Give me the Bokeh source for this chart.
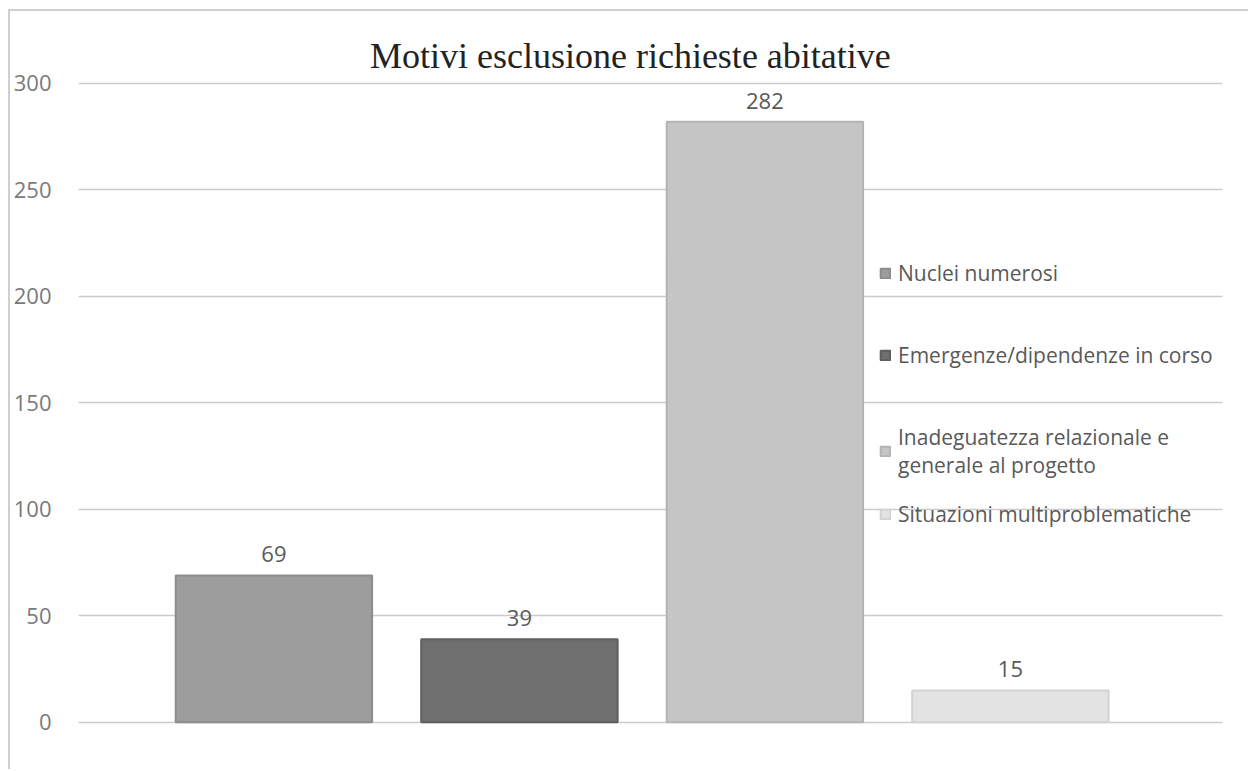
from bokeh.plotting import figure
from bokeh.models import (ColumnDataSource, Range1d, FixedTicker, Legend, LegendItem, Label)
from bokeh.core.properties import value
from bokeh.embed import file_html
from bokeh.resources import INLINE

# ---- data ----
categories = ["Nuclei numerosi", "Emergenze/dipendenze in corso",
              "Inadeguatezza relazionale e\ngenerale al progetto",
              "Situazioni multiproblematiche"]
counts = [69, 39, 282, 15]
fill_colors = ["#9d9d9d", "#6f6f6f", "#c5c5c5", "#e3e3e3"]
edge_colors = ["#8c8c8c", "#5f5f5f", "#b3b3b3", "#d2d2d2"]
y_ticks = [0, 50, 100, 150, 200, 250, 300]
title_text = "Motivi esclusione richieste abitative"

positions = list(range(len(categories)))
src = ColumnDataSource(dict(x=positions, top=counts, fill=fill_colors,
                            edge=edge_colors, lab=[str(c) for c in counts]))

p = figure(width=1240, height=760, output_backend="svg", toolbar_location=None,
           x_range=Range1d(-0.796, 3.864), y_range=Range1d(-1, 333.8),
           min_border_left=68, min_border_right=28, min_border_top=0,
           min_border_bottom=47)
p.styles = {"margin-left": "8px", "margin-top": "9px",
            "border-left": "2px solid #cfcfcf", "border-top": "2px solid #cfcfcf"}
p.outline_line_color = None
p.background_fill_color = "white"
p.border_fill_color = "white"

p.xaxis.visible = False
p.xgrid.grid_line_color = None
p.ygrid.grid_line_color = "#cbcbcb"
p.ygrid.grid_line_width = 1.5
p.yaxis.ticker = FixedTicker(ticks=y_ticks)
p.yaxis.axis_line_color = None
p.yaxis.major_tick_line_color = None
p.yaxis.minor_tick_line_color = None
p.yaxis.major_label_standoff = 21
p.yaxis.major_label_text_font = "Open Sans"
p.yaxis.major_label_text_font_size = "22px"
p.yaxis.major_label_text_color = "#7a7a7a"

r = p.vbar(x="x", top="top", width=0.80, bottom=0, source=src,
           fill_color="fill", line_color="edge", line_width=2)

p.text(x="x", y="top", text="lab", source=src, y_offset=-21,
       text_align="center", text_baseline="middle",
       text_font=value("Open Sans"), text_font_size="22px",
       text_color="#595959")

p.add_layout(Label(x=1.452, y=313.1, text=title_text, text_align="center",
                   text_baseline="middle", text_font="Liberation Serif",
                   text_font_size="36px", text_color="#222222"))

items_a = [LegendItem(label=categories[i], renderers=[r], index=i) for i in range(3)]
items_b = [LegendItem(label=categories[3], renderers=[r], index=3)]
for items, loc, sp in ((items_a, (801, 245), 54), (items_b, (801, 196), 0)):
    lg = Legend(items=items, location=loc, spacing=sp, padding=0, margin=0,
                glyph_width=12, glyph_height=12, label_standoff=7,
                label_text_font="Open Sans", label_text_font_size="21px",
                label_text_color="#595959", background_fill_alpha=0,
                border_line_color=None)
    p.add_layout(lg, "center")

open("out.html", "w").write(file_html(p, INLINE))
